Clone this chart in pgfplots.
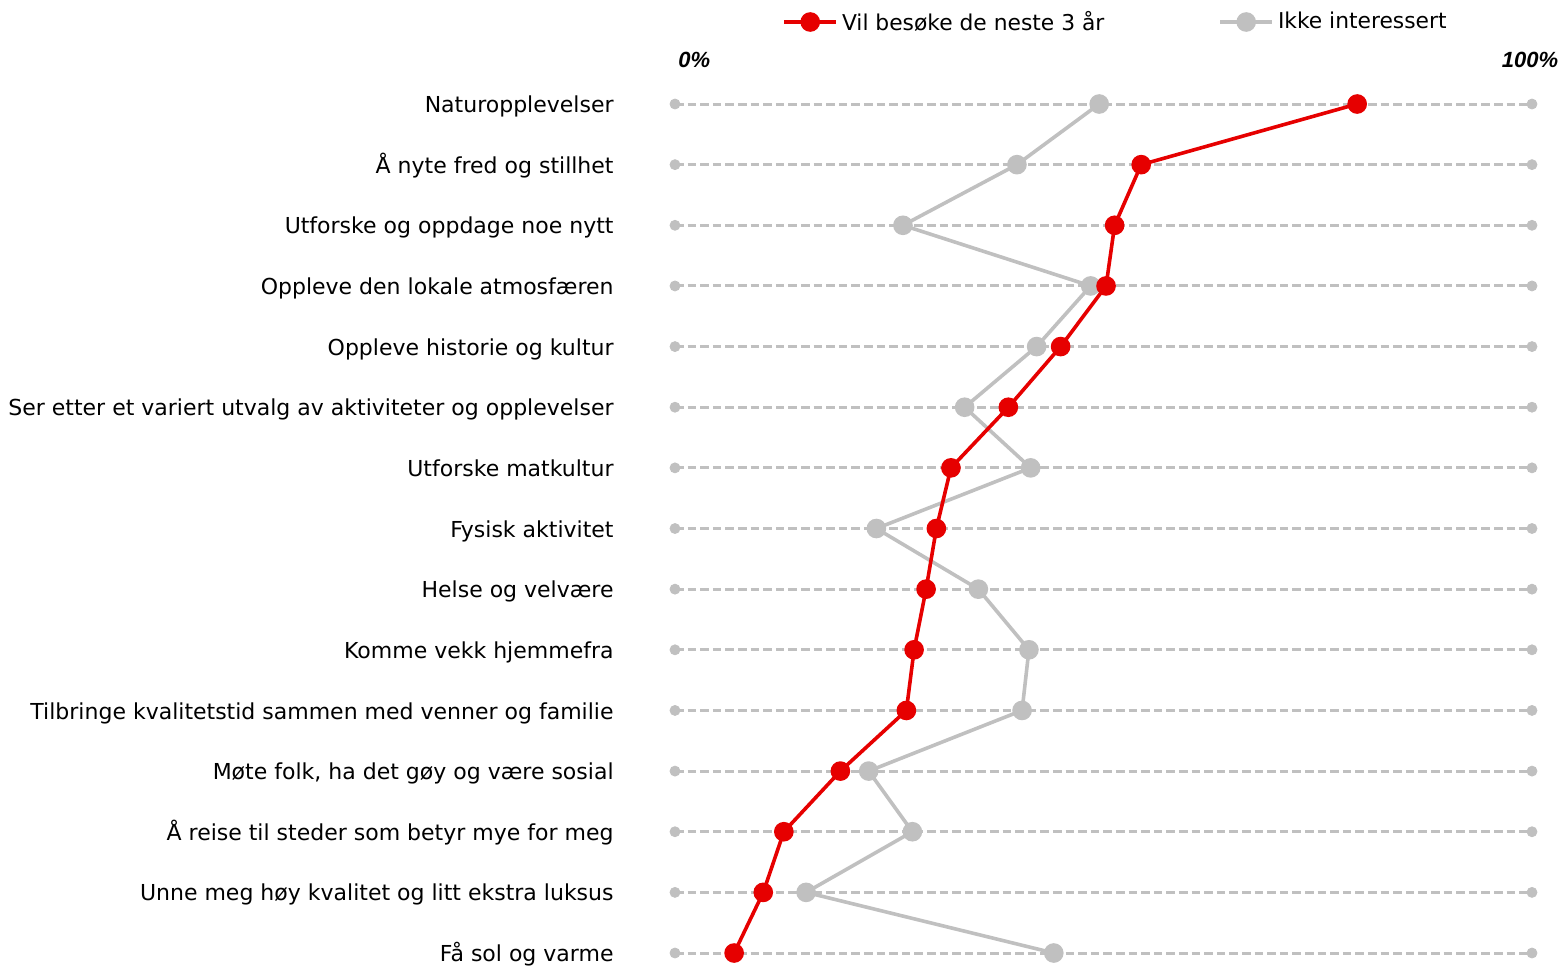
\documentclass[border=0pt]{standalone}
\usepackage{pgfplots}
\pgfplotsset{compat=1.18}
\usepackage{fontspec}
\setmainfont{DejaVu Sans}
\newfontfamily\pctfont{Liberation Sans}
\definecolor{cred}{RGB}{230,0,0}
\definecolor{cgray}{RGB}{192,192,192}
\begin{document}
\begin{tikzpicture}
\useasboundingbox (-337.5pt,-6.5pt) rectangle (444pt,476.5pt);
\begin{axis}[
  scale only axis,
  width=428.5pt, height=424.5pt,
  xmin=0, xmax=100, ymin=1, ymax=15,
  y dir=reverse,
  clip=false,
  axis line style={draw=none},
  major tick length=0pt,
  xtick=\empty,
  ytick={1,...,15},
  yticklabels={Naturopplevelser,Å nyte fred og stillhet,Utforske og oppdage noe nytt,Oppleve den lokale atmosfæren,Oppleve historie og kultur,Ser etter et variert utvalg av aktiviteter og opplevelser,Utforske matkultur,Fysisk aktivitet,Helse og velvære,Komme vekk hjemmefra,Tilbringe kvalitetstid sammen med venner og familie,{Møte folk, ha det gøy og være sosial},Å reise til steder som betyr mye for meg,Unne meg høy kvalitet og litt ekstra luksus,Få sol og varme},
  yticklabel style={font=\fontsize{11}{13}\selectfont, anchor=base east, inner sep=0pt, xshift=-30.5pt, yshift=-4.3pt},
  ymajorgrids,
  major grid style={cgray, line width=1.5pt, dash pattern=on 4.3pt off 2pt},
  legend columns=2,
  legend style={draw=none, fill=none, inner sep=0pt, anchor=west, at={(0.1249,1.0966)}, font=\fontsize{10.9}{13}\selectfont,
    /tikz/every even column/.append style={column sep=55pt}},
  legend image code/.code={\draw[mark repeat=2,mark phase=2] plot coordinates {(0pt,0pt)(13pt,0pt)(26pt,0pt)};},
]
\addlegendimage{cred, line width=1.8pt, mark=*, mark size=4pt, mark options={solid}}
\addlegendentry{Vil besøke de neste 3 år}
\addlegendimage{cgray, line width=1.8pt, mark=*, mark size=4pt, mark options={solid}}
\addlegendentry{Ikke interessert}
% endpoint dots
\addplot[forget plot, only marks, mark=*, mark size=2.5pt, cgray] coordinates {
(0,1)(0,2)(0,3)(0,4)(0,5)(0,6)(0,7)(0,8)(0,9)(0,10)(0,11)(0,12)(0,13)(0,14)(0,15)
(100,1)(100,2)(100,3)(100,4)(100,5)(100,6)(100,7)(100,8)(100,9)(100,10)(100,11)(100,12)(100,13)(100,14)(100,15)};
% Ikke interessert
\addplot[forget plot, cgray, line width=1.8pt, mark=*, mark size=4pt] coordinates {
(49.5,1)(39.9,2)(26.6,3)(48.5,4)(42.2,5)(33.8,6)(41.5,7)(23.5,8)(35.4,9)(41.3,10)(40.5,11)(22.6,12)(27.7,13)(15.3,14)(44.2,15)};
% Vil besoke
\addplot[forget plot, cred, line width=1.8pt, mark=*, mark size=4pt] coordinates {
(79.6,1)(54.4,2)(51.3,3)(50.3,4)(45.0,5)(38.9,6)(32.2,7)(30.5,8)(29.3,9)(27.9,10)(27.0,11)(19.3,12)(12.7,13)(10.3,14)(6.9,15)};
\end{axis}
\node[anchor=west, inner sep=0pt, font=\fontsize{11}{13}\selectfont\pctfont\bfseries\itshape] at (1.5pt,446.5pt) {0\%};
\node[anchor=center, inner sep=0pt, font=\fontsize{11}{13}\selectfont\pctfont\bfseries\itshape] at (427.5pt,446.5pt) {100\%};
\end{tikzpicture}
\end{document}
